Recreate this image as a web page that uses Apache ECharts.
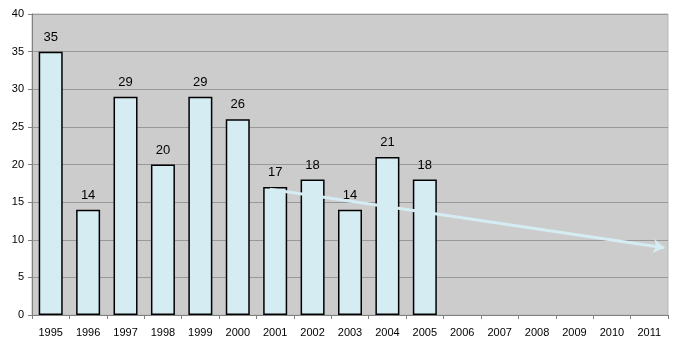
<!DOCTYPE html>
<html><head><meta charset="utf-8">
<script src="https://cdn.jsdelivr.net/npm/echarts@6/dist/echarts.min.js"></script>
<style>html,body{margin:0;padding:0;background:#fff}#c{width:688px;height:349px}</style>
</head><body><div id="c"></div>
<script>
const categories = ['1995','1996','1997','1998','1999','2000','2001','2002','2003','2004','2005','2006','2007','2008','2009','2010','2011'];
const values = [35,14,29,20,29,26,17,18,14,21,18,null,null,null,null,null,null];
const trendStart = [6.36, 16.7];
const trendEnd = [16.9, 8.95];
const yTicks = [0,5,10,15,20,25,30,35,40];

const chart = echarts.init(document.getElementById('c'));
chart.setOption({
  animation: false,
  backgroundColor: '#ffffff',
  textStyle: {fontFamily: 'Liberation Sans, Arial, sans-serif'},
  grid: {left: 32, right: 20, top: 14, bottom: 34, show: true, backgroundColor: '#cccccc', borderColor: '#b8b8b8', borderWidth: 1},
  xAxis: [{
    type: 'category', data: categories,
    axisLine: {lineStyle: {color: '#808080', width: 1}},
    axisTick: {show: true, length: 4, lineStyle: {color: '#808080'}, alignWithLabel: false},
    axisLabel: {color: '#000', fontSize: 11, margin: 12}
  }, {
    type: 'value', min: 0, max: 17, show: false
  }],
  yAxis: {
    type: 'value', min: yTicks[0], max: yTicks[yTicks.length-1], interval: 5,
    axisLine: {show: true, lineStyle: {color: '#808080'}},
    axisTick: {show: true, length: 4, lineStyle: {color: '#808080'}},
    splitLine: {lineStyle: {color: '#999999', width: 1}},
    axisLabel: {color: '#000', fontSize: 11, margin: 8}
  },
  series: [{
    type: 'bar', data: values, barWidth: 24,
    itemStyle: {color: '#d4ecf2', borderColor: '#000', borderWidth: 1.5},
    label: {show: true, position: 'top', distance: 8, color: '#000', fontSize: 13}
  }, {
    type: 'line', xAxisIndex: 1, data: [trendStart, trendEnd], clip: false,
    symbol: 'none', lineStyle: {width: 0},
    markLine: {
      silent: true, symbol: ['none', 'arrow'], symbolSize: 11,
      label: {show: false},
      lineStyle: {color: '#d4ecf2', width: 3, type: 'solid', opacity: 1},
      itemStyle: {color: '#d4ecf2'},
      data: [[{coord: trendStart, symbol: 'none'}, {coord: trendEnd, symbol: 'arrow'}]]
    }
  }]
});
</script></body></html>
